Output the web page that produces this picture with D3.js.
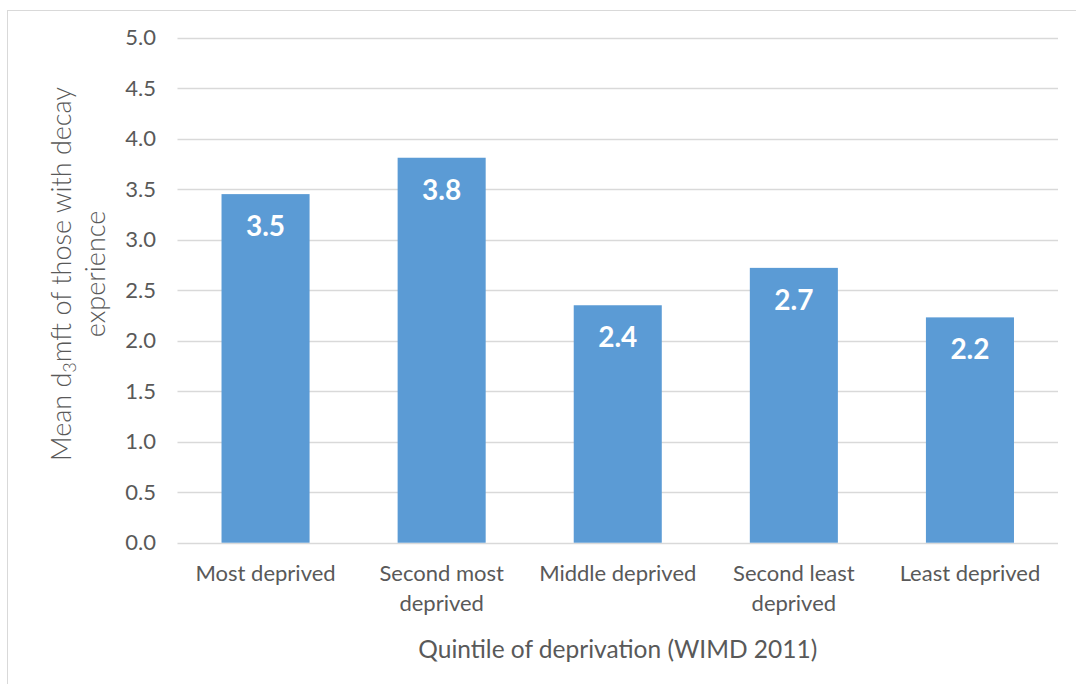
<!DOCTYPE html>
<html>
<head>
<meta charset="utf-8">
<script src="https://cdn.jsdelivr.net/npm/d3@7"></script>
<style>
  html, body { margin: 0; padding: 0; background: #fff; }
  svg { display: block; }
  text { font-family: Lato, "Open Sans", sans-serif; }
</style>
</head>
<body>
<svg id="chart" width="1076" height="684"></svg>
<script>
const categories = ["Most deprived", "Second most deprived", "Middle deprived", "Second least deprived", "Least deprived"];
const categoryLines = [["Most deprived"], ["Second most", "deprived"], ["Middle deprived"], ["Second least", "deprived"], ["Least deprived"]];
const values = [3.45, 3.81, 2.35, 2.72, 2.23];
const valueLabels = ["3.5", "3.8", "2.4", "2.7", "2.2"];
const yTicks = [0, 0.5, 1.0, 1.5, 2.0, 2.5, 3.0, 3.5, 4.0, 4.5, 5.0];
const xTitle = "Quintile of deprivation (WIMD 2011)";

const svg = d3.select("#chart");
const W = 1076, H = 684;

// chart border
svg.append("rect")
  .attr("x", 7.5).attr("y", 10.5)
  .attr("width", W + 10).attr("height", H + 10)
  .attr("fill", "none").attr("stroke", "#D9D9D9").attr("stroke-width", 1);

const plot = { left: 177.5, right: 1058, top: 37.5, bottom: 542.7 };

const x = d3.scaleBand().domain(categories).range([plot.left, plot.right]).paddingInner(0.5).paddingOuter(0.25);
const y = d3.scaleLinear().domain([0, 5]).range([plot.bottom, plot.top]);

// gridlines
svg.append("g").selectAll("line").data(yTicks).join("line")
  .attr("x1", plot.left).attr("x2", plot.right)
  .attr("y1", d => Math.round(y(d)) + 0.5).attr("y2", d => Math.round(y(d)) + 0.5)
  .attr("stroke", "#D9D9D9").attr("stroke-width", 1.3);

// y axis labels via d3 axis
const yAxis = d3.axisLeft(y).tickValues(yTicks).tickFormat(d3.format(".1f")).tickSize(0).tickPadding(0);
const yg = svg.append("g").attr("transform", `translate(156,0)`).call(yAxis);
yg.select(".domain").remove();
yg.selectAll("text").attr("fill", "#595959").style("font-size", "22px").style("font-family", "Lato, sans-serif");

// bars
svg.append("g").selectAll("rect").data(values).join("rect")
  .attr("x", (d, i) => x(categories[i]))
  .attr("width", x.bandwidth())
  .attr("y", d => y(d))
  .attr("height", d => y(0) - y(d))
  .attr("fill", "#5B9BD5");

// data labels
svg.append("g").selectAll("text").data(values).join("text")
  .attr("x", (d, i) => x(categories[i]) + x.bandwidth() / 2)
  .attr("y", d => y(d) + 42)
  .attr("text-anchor", "middle")
  .attr("fill", "#fff")
  .style("font-size", "28px").style("font-weight", "bold")
  .text((d, i) => valueLabels[i]);

// x category labels
const xg = svg.append("g");
categories.forEach((c, i) => {
  const t = xg.append("text")
    .attr("x", x(c) + x.bandwidth() / 2)
    .attr("y", 581)
    .attr("text-anchor", "middle")
    .attr("fill", "#595959")
    .style("font-size", "22px");
  categoryLines[i].forEach((ln, j) => {
    t.append("tspan").attr("x", x(c) + x.bandwidth() / 2).attr("dy", j === 0 ? 0 : 30).text(ln);
  });
});

// x title
svg.append("text")
  .attr("x", (plot.left + plot.right) / 2).attr("y", 658)
  .attr("text-anchor", "middle").attr("fill", "#595959")
  .style("font-size", "24.5px")
  .text(xTitle);

// y title
const yt = svg.append("text")
  .attr("transform", "translate(71,274) rotate(-90)")
  .attr("text-anchor", "middle").attr("fill", "#595959")
  .style("font-size", "27px").style("font-weight", "300");
yt.append("tspan").text("Mean d");
yt.append("tspan").attr("baseline-shift", "-25%").style("font-size", "18px").text("3");
yt.append("tspan").text("mft of those with decay");
svg.append("text")
  .attr("transform", "translate(105,274) rotate(-90)")
  .attr("text-anchor", "middle").attr("fill", "#595959")
  .style("font-size", "27px").style("font-weight", "300")
  .text("experience");
</script>
</body>
</html>
